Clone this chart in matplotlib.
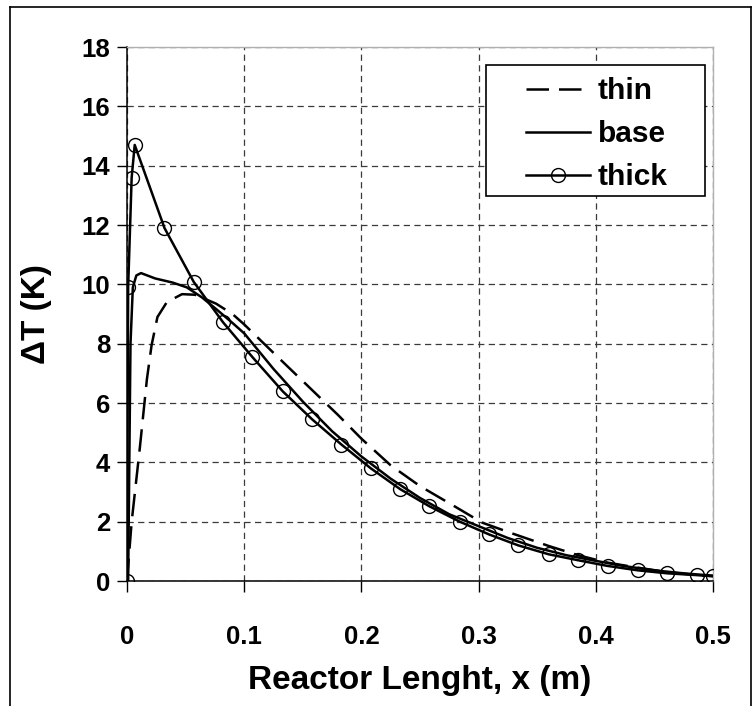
import matplotlib.pyplot as plt
from matplotlib.lines import Line2D
from matplotlib.patches import Rectangle

plt.rcParams['font.family'] = ['Liberation Sans', 'DejaVu Sans']
plt.rcParams['font.weight'] = 'bold'
plt.rcParams['axes.labelweight'] = 'bold'

# thin
x_thin = [0, 0.004, 0.011, 0.017, 0.021, 0.026, 0.034, 0.047, 0.058, 0.076, 0.09, 0.1,
          0.13, 0.155, 0.18, 0.2, 0.225, 0.25, 0.276, 0.303, 0.329, 0.36, 0.385, 0.41,
          0.436, 0.461, 0.486, 0.5]
y_thin = [0, 2.0, 4.5, 6.8, 7.95, 8.9, 9.4, 9.67, 9.65, 9.35, 9.0, 8.65,
          7.5, 6.55, 5.6, 4.8, 3.9, 3.2, 2.6, 1.97, 1.6, 1.18, 0.87, 0.62,
          0.45, 0.3, 0.2, 0.17]

# base
x_base = [0, 0.001, 0.003, 0.005, 0.008, 0.012, 0.024, 0.039, 0.051, 0.064, 0.076, 0.09,
          0.1, 0.125, 0.15, 0.175, 0.2, 0.225, 0.25, 0.275, 0.3, 0.325, 0.35, 0.375,
          0.4, 0.425, 0.45, 0.475, 0.5]
y_base = [0, 0, 8.0, 9.9, 10.3, 10.38, 10.2, 10.06, 9.9, 9.56, 9.17, 8.7,
          8.35, 7.15, 6.05, 5.05, 4.2, 3.45, 2.8, 2.25, 1.85, 1.45, 1.12, 0.87,
          0.68, 0.5, 0.36, 0.26, 0.18]

# thick
x_thick = [0, 0.001, 0.004, 0.0066, 0.032, 0.057, 0.082, 0.107, 0.133, 0.158, 0.183, 0.208,
           0.233, 0.258, 0.284, 0.309, 0.334, 0.36, 0.385, 0.41, 0.436, 0.461, 0.486, 0.5]
y_thick = [0, 9.9, 13.6, 14.7, 11.9, 10.08, 8.72, 7.55, 6.39, 5.45, 4.6, 3.8,
           3.1, 2.52, 2.0, 1.57, 1.2, 0.9, 0.7, 0.51, 0.36, 0.26, 0.2, 0.16]

x_ticks = [0, 0.1, 0.2, 0.3, 0.4, 0.5]
x_labels = ['0', '0.1', '0.2', '0.3', '0.4', '0.5']
y_ticks = [0, 2, 4, 6, 8, 10, 12, 14, 16, 18]

fig = plt.figure(figsize=(7.54, 7.06), dpi=100)
ax = fig.add_axes([0.1684, 0.177, 0.7772, 0.7564])

ax.plot(x_thin, y_thin, color='black', lw=1.8, linestyle=(0, (9, 4)), label='thin', zorder=3)
ax.plot(x_base, y_base, color='black', lw=1.8, label='base', zorder=3)
ax.plot(x_thick, y_thick, color='black', lw=1.8, marker='o', ms=10, mfc='none',
        mec='black', mew=1.0, label='thick', zorder=3)

ax.set_xlim(0, 0.5)
ax.set_ylim(0, 18)
ax.set_xticks(x_ticks)
ax.set_xticklabels(x_labels)
ax.set_yticks(y_ticks)

ax.grid(True, color='#3a3a3a', lw=0.9, linestyle=(0, (5, 3.5)), zorder=1)
ax.set_axisbelow(True)
for s in ['top', 'right']:
    ax.spines[s].set_color('#b0b0b0')
    ax.spines[s].set_linewidth(1.0)
for s in ['left', 'bottom']:
    ax.spines[s].set_color('black')
    ax.spines[s].set_linewidth(1.1)

ax.tick_params(axis='x', direction='out', length=8, width=1, pad=24, labelsize=18.5)
ax.tick_params(axis='y', direction='out', length=7, width=1, pad=5, labelsize=18.5)

ax.set_xlabel('Reactor Lenght, x (m)', fontsize=24, labelpad=11)
ax.set_ylabel('ΔT (K)', fontsize=24, labelpad=21)

# legend box
ax.add_patch(Rectangle((0.6126, 0.721), 0.3737, 0.2453, transform=ax.transAxes,
                       facecolor='white', edgecolor='black', lw=1.2, zorder=4))
leg = ax.legend(loc='upper left', bbox_to_anchor=(0.681, 0.943), frameon=False,
                fontsize=21.5, handlelength=2.14, handletextpad=0.27, labelspacing=0.5,
                borderaxespad=0, borderpad=0)
leg.set_zorder(5)

# chart area border
fig.add_artist(Line2D([10 / 754, 10 / 754], [0, 1 - 7 / 706], color='black', lw=1.2))
fig.add_artist(Line2D([10 / 754, 751 / 754], [1 - 7 / 706, 1 - 7 / 706], color='black', lw=1.2))
fig.add_artist(Line2D([751 / 754, 751 / 754], [0, 1 - 7 / 706], color='black', lw=1.2))

fig.savefig('out.png', dpi=100)
